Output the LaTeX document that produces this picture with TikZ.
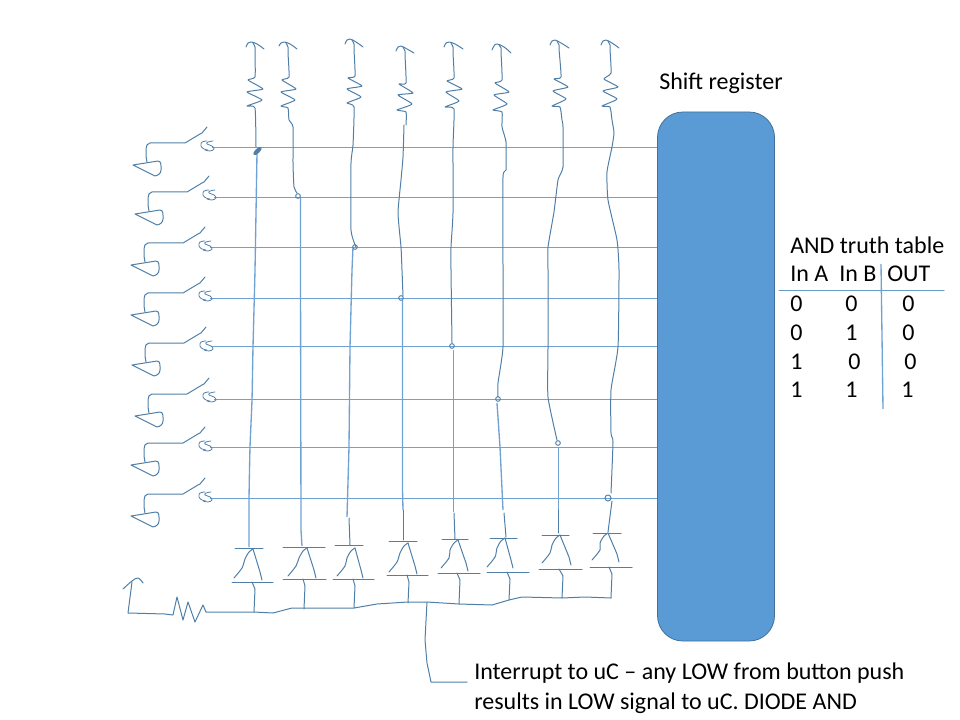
\documentclass[tikz,border=0pt]{standalone}
\usepackage{fontspec}
\setmainfont{Carlito}
\usepackage{xcolor}
\usetikzlibrary{shapes, positioning}

\definecolor{penblue}{HTML}{4F7FA8}
\definecolor{gridblue}{HTML}{6FA2D2}
\definecolor{regfill}{HTML}{5B9BD5}
\definecolor{regline}{HTML}{41719C}

\tikzset{
    pen/.style={draw=penblue, line width=.75pt, line join=round, line cap=round},
    gridwire/.style={draw=gridblue, line width=1pt},
    register/.style={draw=regline, fill=regfill, line width=.6pt, rounded corners=19pt, minimum width=87.75pt, minimum height=396.75pt, inner sep=0pt},
    label/.style={anchor=base west, inner sep=0pt, font=\fontsize{18}{21}\selectfont},
    joint/.style={circle, draw=penblue, line width=.7pt, minimum size=3.5pt, inner sep=0pt}
}

\begin{document}
\begin{tikzpicture}[x=.75pt, y=-.75pt]
    \useasboundingbox (0, 0) rectangle (960, 720);

    \node[register] (sr) at (716, 376.5) {};
    \node[label] (srtitle) at (659, 89.5) {Shift register};

    % switches and rows
    \foreach \i/\cx/\cy/\ry in {1/207/146/147.5, 2/209/195/197.5, 3/205/246/247.5, 4/205/296/298.5, 5/206/346/346.5, 6/209/397/399.5, 7/205/446/447.5, 8/205/497/498.5} {
        \coordinate (rs\i) at (\cx+5, \ry);
        \coordinate (re\i) at (657, \ry);
        \draw[gridwire] (rs\i) -- (re\i);
        \begin{scope}[shift={(\cx, \cy)}]
            \draw[pen, line width=.6pt] plot[smooth, tension=.7] coordinates {(0, -5) (-5, -4) (-6, 0) (-3, 3) (1, 4)};
            \draw[pen, line width=.6pt] plot[smooth, tension=.7] coordinates {(6, -5) (1, -4) (0, -2) (5, 0) (7, 3) (3, 5) (-2, 4)};
            \draw[pen] (0, -19) -- (-5, -13) -- (-7, -12) -- (-22, -3) -- (-57, -3) to[out=180, in=90] (-61, 3) -- (-61, 10) -- (-60, 16);
            \draw[pen] (-74, 19) -- (-49, 15) to[out=0, in=90] (-46, 24) to[out=-90, in=10] (-52, 30) -- cycle;
        \end{scope}
    }

    % pull ups and columns
    \draw[pen] plot[smooth, tension=.7] coordinates {(246, 47) (248, 43) (251, 42) (257, 44) (264, 49)};
    \draw[pen] plot[smooth, tension=.3] coordinates {(253, 43) (255, 47) (255, 53) (255, 77) (248, 80) (263, 89) (247, 92) (262, 100) (247, 106) (255, 108) (256, 147)};
    \draw[gridwire] plot[smooth, tension=.3] coordinates {(257, 153) (255, 270) (253, 347) (252, 400) (250, 447) (249, 500) (249, 547)};

    \draw[pen] plot[smooth, tension=.7] coordinates {(279, 46) (281, 43) (284, 42) (290, 44) (297, 49)};
    \draw[pen] plot[smooth, tension=.3] coordinates {(286, 43) (288, 47) (288, 53) (289, 77) (282, 80) (296, 89) (281, 92) (295, 100) (281, 106) (288, 108) (289, 120) (293, 127) (293, 163) (294, 187) (297, 193)};
    \draw[gridwire] (300.5, 197) -- (300.5, 270) -- (301, 530) -- (302, 546);

    \draw[pen] plot[smooth, tension=.7] coordinates {(345, 44) (347, 40) (350, 39) (356, 42) (363, 47)};
    \draw[pen] plot[smooth, tension=.3] coordinates {(352, 40) (354, 44) (354, 50) (355, 76) (348, 78) (362, 86) (347, 89) (361, 97) (347, 103) (354, 107) (353, 145) (351, 163) (351, 230) (356, 247)};
    \draw[gridwire] (353, 247) -- (352, 270) -- (350, 347) -- (349, 447) -- (347, 517);
    \draw[pen] (349, 518) -- (350, 545);

    \draw[pen] plot[smooth, tension=.7] coordinates {(396, 51) (398, 47) (401, 46) (407, 49) (414, 53)};
    \draw[pen] plot[smooth, tension=.3] coordinates {(403, 47) (405, 51) (405, 55) (406, 83) (399, 84) (413, 93) (398, 95) (412, 104) (397, 110) (406, 112) (406, 125)};
    \draw[pen] plot[smooth, tension=.3] coordinates {(404, 125) (403, 157) (401, 180) (398, 213) (401, 247) (402, 270) (403, 296)};
    \draw[gridwire] (402.5, 300) -- (402.5, 490) -- (403, 510);
    \draw[pen] (403, 510) -- (403, 540);

    \draw[pen] plot[smooth, tension=.7] coordinates {(444, 47) (446, 43) (449, 42) (455, 44) (463, 49)};
    \draw[pen] plot[smooth, tension=.3] coordinates {(451, 43) (453, 47) (453, 53) (454, 78) (447, 81) (462, 89) (446, 92) (459, 101) (445, 107) (454, 109) (453, 147) (453, 213) (451, 247) (451, 270) (452, 343)};
    \draw[gridwire] (453.5, 350) -- (453.5, 512);
    \draw[pen] (454, 513) -- (455, 539);

    \draw[pen] plot[smooth, tension=.7] coordinates {(492, 50) (494, 46) (497, 44) (504, 47) (511, 53)};
    \draw[pen] plot[smooth, tension=.3] coordinates {(499, 45) (501, 48) (501, 52) (502, 80) (495, 83) (509, 92) (494, 95) (507, 104) (493, 110) (502, 112) (502, 127) (506, 142) (506, 170) (503, 177) (503, 270) (503, 347) (498, 383) (498, 397)};
    \draw[gridwire] (497, 403) -- (500, 447) -- (503, 510);
    \draw[pen] (504, 513) -- (506, 537);

    \draw[pen] plot[smooth, tension=.7] coordinates {(550, 45) (552, 41) (555, 40) (561, 43) (569, 48)};
    \draw[pen] plot[smooth, tension=.3] coordinates {(557, 41) (559, 45) (559, 49) (561, 77) (554, 79) (568, 87) (553, 91) (566, 99) (552, 106) (560, 107) (562, 120) (563, 127) (563, 167) (558, 180) (554, 212) (548, 247) (548, 270) (548, 347) (548, 397) (557, 440)};
    \draw[gridwire] (558.5, 447) -- (558.5, 510);
    \draw[pen] (558.5, 510) -- (558.5, 533);

    \draw[pen] plot[smooth, tension=.7] coordinates {(601, 45) (603, 41) (606, 40) (612, 43) (619, 48)};
    \draw[pen] plot[smooth, tension=.3] coordinates {(608, 41) (610, 45) (610, 49) (611, 73) (604, 79) (618, 87) (603, 91) (617, 99) (602, 106) (610, 107) (612, 120) (614, 133) (612, 147) (607, 172) (608, 200) (617, 240) (619, 270) (618, 347) (611, 390) (611, 433) (613, 442) (611, 493)};
    \draw[pen] (612, 501) -- (608, 532);

    % joints on the rows
    \draw[fill=penblue, draw=penblue, rotate around={45:(257.5, 151)}] (257.5, 151) ellipse (5 and 2);
    \node[joint] (j2) at (298, 196) {};
    \node[joint] (j3) at (355, 247) {};
    \node[joint] (j4) at (401, 298) {};
    \node[joint] (j5) at (452, 346) {};
    \node[joint] (j6) at (498, 399) {};
    \node[joint] (j7) at (558, 443) {};
    \node[joint, minimum size=4.5pt] (j8) at (608, 498) {};

    % diodes and their feet on the bus
    \foreach \n/\tl/\tr/\ty/\tipx/\tipy/\lx/\ly/\rx/\ry/\bl/\br/\by/\sa/\sb/\bus in {
        1/235/263/548/253/549/234/578/262/580/232/273/582/252/254/612,
        2/283/325/547/307/548/288/576/316/578/283/326/579/303/304/609,
        3/335/363/545/355/548/337/576/363/578/333/374/579/353/354/608,
        4/389/417/541/408/543/389/572/417/574/387/428/575/407/408/603,
        5/442/468/539/458/540/441/568/468/571/438/480/573/457/459/604,
        6/490/517/538/505/538/487/567/513/568/487/529/572/507/509/600,
        7/542/569/535/560/535/542/563/571/565/539/582/569/559/562/598,
        8/593/621/533/608/533/592/560/619/562/590/632/567/609/611/598} {
        \coordinate (bus\n) at (\sb, \bus);
        \draw[pen] (\tl, \ty) -- (\tr, \ty);
        \draw[pen] plot[smooth, tension=.5] coordinates {(\lx, \ly) (\lx+8, \ly-10) (\tipx-8, \tipy+10) (\tipx-4, \tipy+3) (\tipx, \tipy)};
        \draw[pen] (\tipx, \tipy) -- (\rx-2, \ry-8) -- (\rx, \ry);
        \draw[pen] (\bl, \by) -- (\br, \by);
        \draw[pen] (\sa, \by) -- (\sb+1, \by+7) -- (bus\n);
    }

    % bus with its pull up
    \draw[pen] plot[smooth, tension=.6] coordinates {(123, 589) (132, 581) (138, 578) (143, 583)};
    \coordinate (tap) at (427, 602);
    \draw[pen] (132, 582) -- (128, 613) -- (165, 614) -- (173, 615) -- (177, 597) -- (183, 620) -- (188, 602) -- (195, 622) -- (203, 605) -- (206, 612) -- (bus1) -- (273, 613) -- (292, 608) -- (bus3) -- (377, 604) -- (408, 602) -- (tap) -- (bus5) -- (492, 605) -- (bus6) -- (522, 597) -- (bus7) -- (585, 597) -- (bus8);

    % interrupt line
    \node[label] (intone) at (474, 679.5) {Interrupt to uC -- any LOW from button push};
    \node[label] (inttwo) at (474, 709) {results in LOW signal to uC. DIODE AND};
    \coordinate (intend) at (467, 682);
    \draw[pen] (tap) -- (425, 640) -- (427, 663) -- (431, 682) -- (intend);

    % truth table
    \node[label] (tabtitle) at (790, 253.5) {AND truth table};
    \node[label] (ina) at (790, 281.5) {In A};
    \node[label] (inb) at (839, 281.5) {In B};
    \node[label] (outp) at (887, 281.5) {OUT};
    \foreach \n/\xa/\a/\xb/\b/\xc/\c/\y in {1/790/0/845/0/902/0/311, 2/790/0/845/1/902/0/340, 3/790/1/848/0/904/0/369, 4/790/1/845/1/901/1/397.5} {
        \node[label] (ca\n) at (\xa, \y) {\a};
        \node[label] (cb\n) at (\xb, \y) {\b};
        \node[label] (cc\n) at (\xc, \y) {\c};
    }
    \coordinate (hl) at (779, 290.5);
    \coordinate (hr) at (944, 290.5);
    \coordinate (vt) at (881, 264);
    \coordinate (vb) at (883, 409);
    \draw[pen, draw=gridblue!80!penblue] (hl) -- (hr);
    \draw[gridwire] (vt) -- (vb);
\end{tikzpicture}
\end{document}
